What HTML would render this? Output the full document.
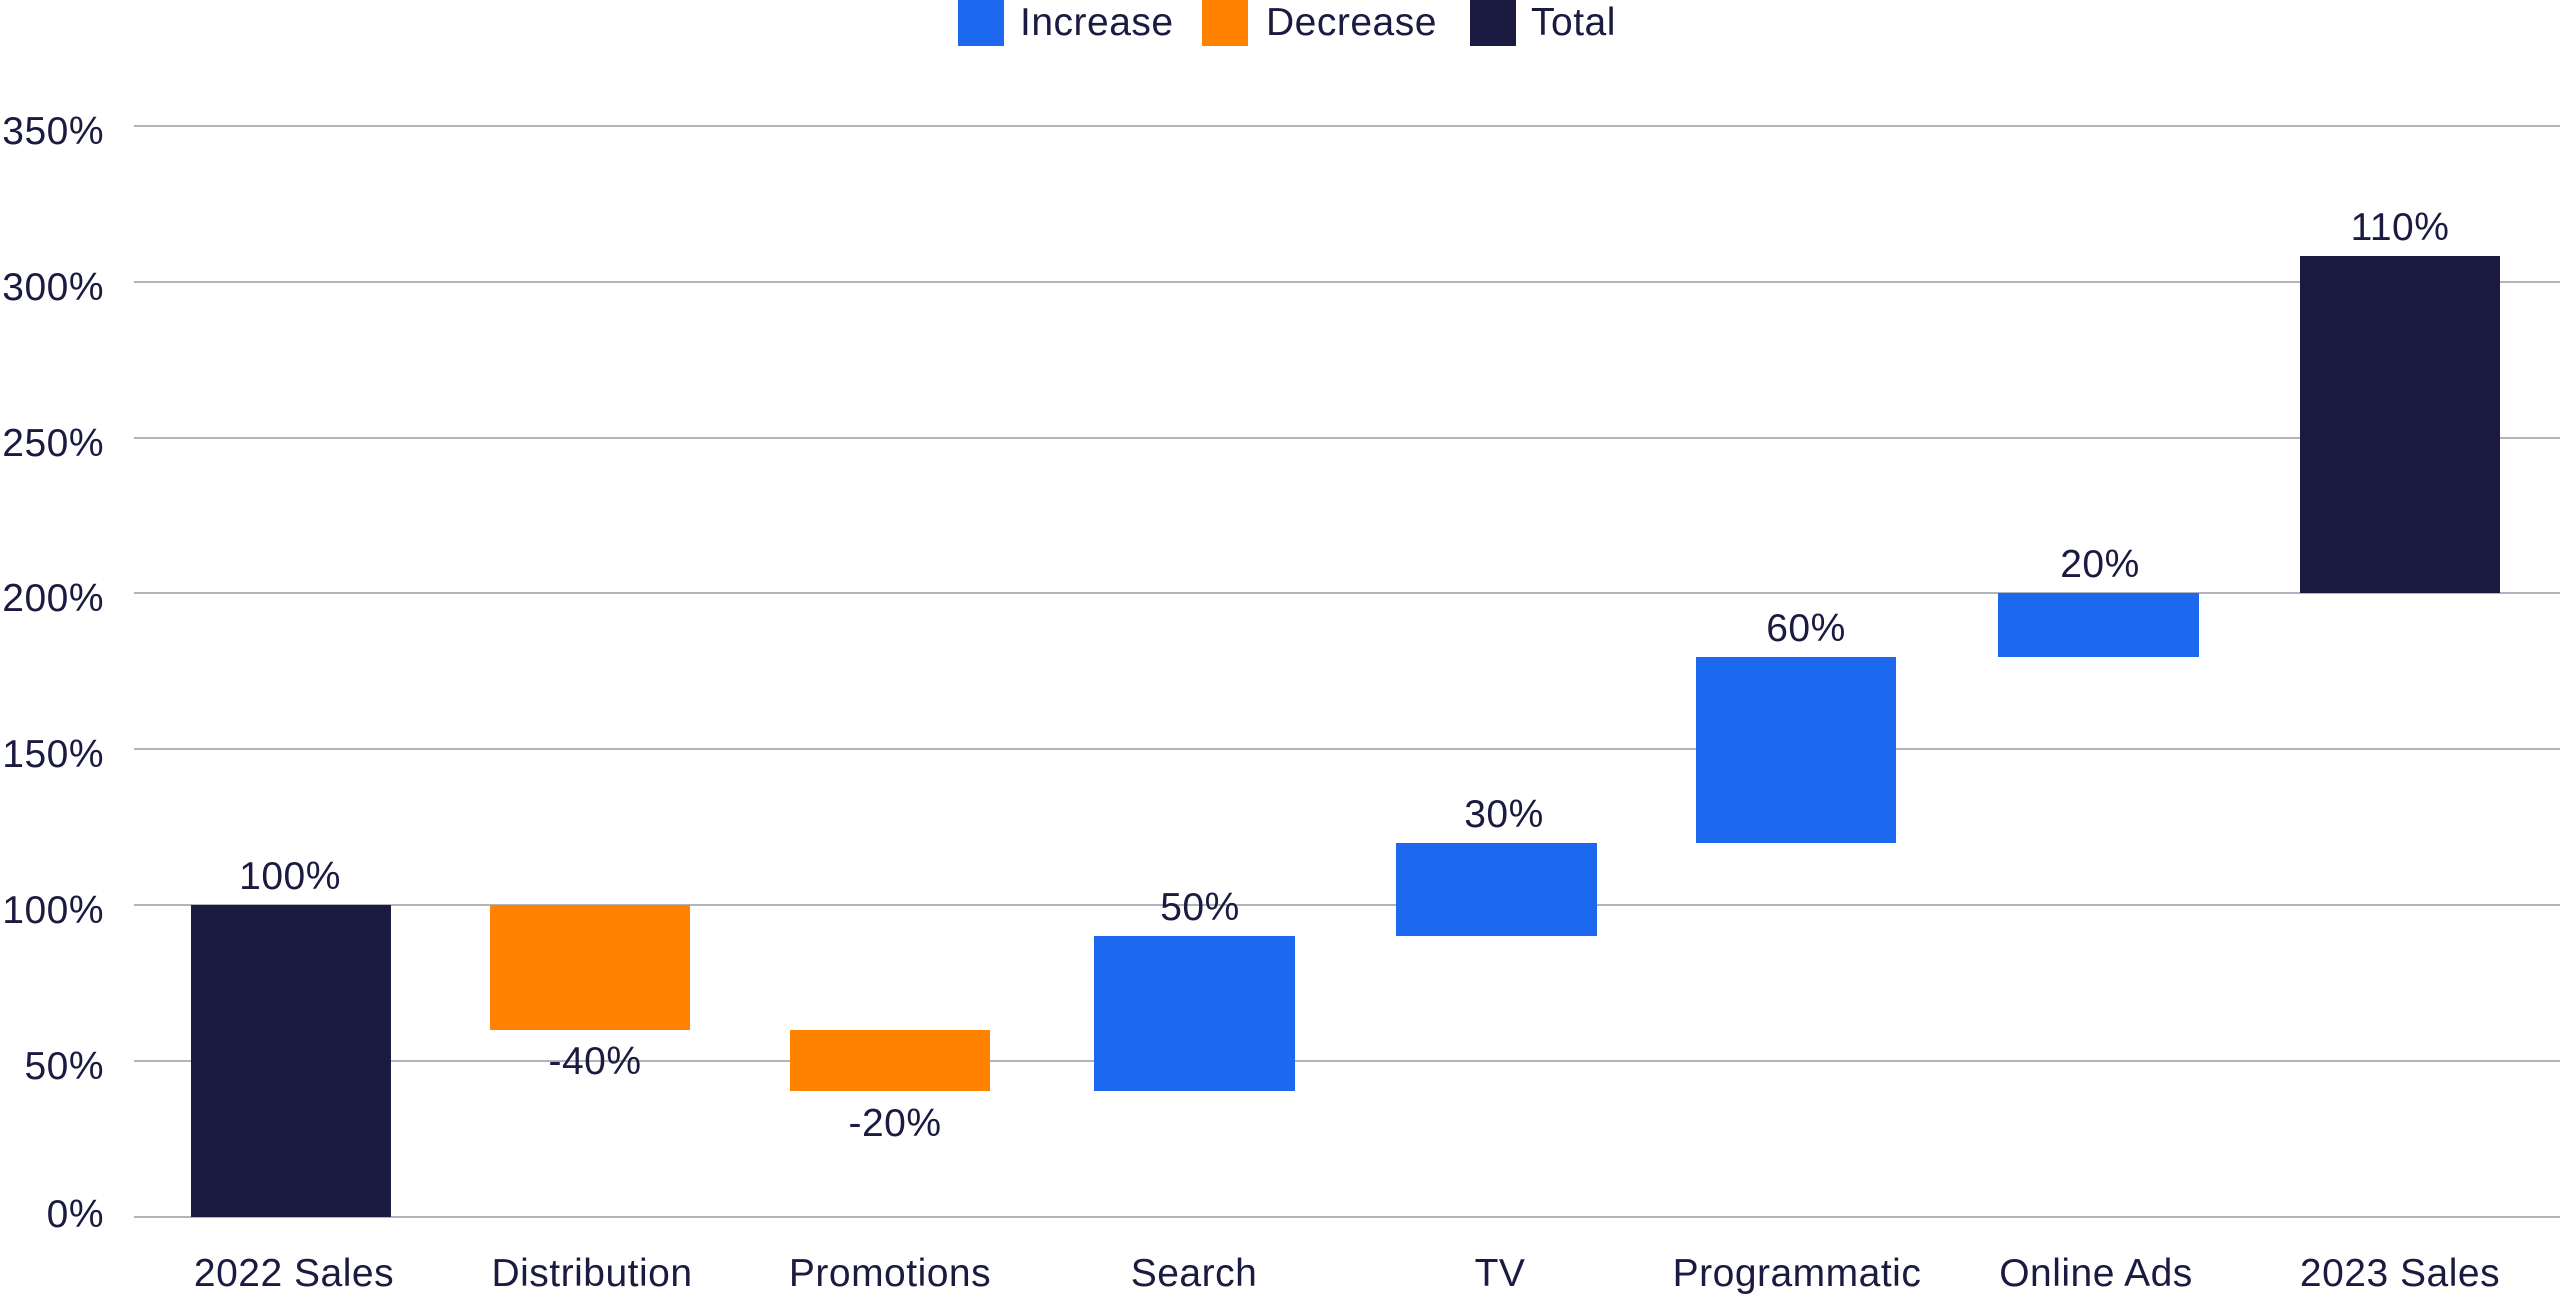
<!DOCTYPE html>
<html><head><meta charset="utf-8"><style>
html,body{margin:0;padding:0;background:#fff;}
svg{display:block;}
text{font-family:"Liberation Sans",sans-serif;fill:#1b1a40;font-size:39px;letter-spacing:0.5px;}
</style></head><body>
<svg width="2560" height="1298" viewBox="0 0 2560 1298">
<rect x="958" y="0" width="46" height="46" fill="#1c69f0"/>
<text x="1020" y="35">Increase</text>
<rect x="1202" y="0" width="46" height="46" fill="#ff8200"/>
<text x="1266" y="35">Decrease</text>
<rect x="1470" y="0" width="46" height="46" fill="#1b1a40"/>
<text x="1531" y="35">Total</text>
<g stroke="#9a9aa6" stroke-width="1.5">
<line x1="134" x2="2560" y1="126" y2="126"/>
<line x1="134" x2="2560" y1="282" y2="282"/>
<line x1="134" x2="2560" y1="438" y2="438"/>
<line x1="134" x2="2560" y1="593" y2="593"/>
<line x1="134" x2="2560" y1="749" y2="749"/>
<line x1="134" x2="2560" y1="905" y2="905"/>
<line x1="134" x2="2560" y1="1061" y2="1061"/>
<line x1="134" x2="2560" y1="1217" y2="1217"/>
</g>
<g text-anchor="end">
<text x="104" y="144">350%</text>
<text x="104" y="300">300%</text>
<text x="104" y="456">250%</text>
<text x="104" y="611">200%</text>
<text x="104" y="767">150%</text>
<text x="104" y="923">100%</text>
<text x="104" y="1079">50%</text>
<text x="104" y="1227">0%</text>
</g>
<rect x="191" y="905" width="200" height="312" fill="#1b1a40"/>
<rect x="490" y="905" width="200" height="125" fill="#ff8200"/>
<rect x="790" y="1030" width="200" height="61" fill="#ff8200"/>
<rect x="1094" y="936" width="201" height="155" fill="#1c69f0"/>
<rect x="1396" y="843" width="201" height="93" fill="#1c69f0"/>
<rect x="1696" y="657" width="200" height="186" fill="#1c69f0"/>
<rect x="1998" y="593" width="201" height="64" fill="#1c69f0"/>
<rect x="2300" y="256" width="200" height="337" fill="#1b1a40"/>
<g text-anchor="middle">
<text x="290" y="889">100%</text>
<text x="595" y="1074">-40%</text>
<text x="895" y="1136">-20%</text>
<text x="1200" y="920">50%</text>
<text x="1504" y="827">30%</text>
<text x="1806" y="641">60%</text>
<text x="2100" y="577">20%</text>
<text x="2400" y="240">110%</text>
</g>
<g text-anchor="middle">
<text x="294" y="1286">2022 Sales</text>
<text x="592" y="1286">Distribution</text>
<text x="890" y="1286">Promotions</text>
<text x="1194" y="1286">Search</text>
<text x="1500" y="1286">TV</text>
<text x="1797" y="1286">Programmatic</text>
<text x="2096" y="1286">Online Ads</text>
<text x="2400" y="1286">2023 Sales</text>
</g>
</svg>
</body></html>
